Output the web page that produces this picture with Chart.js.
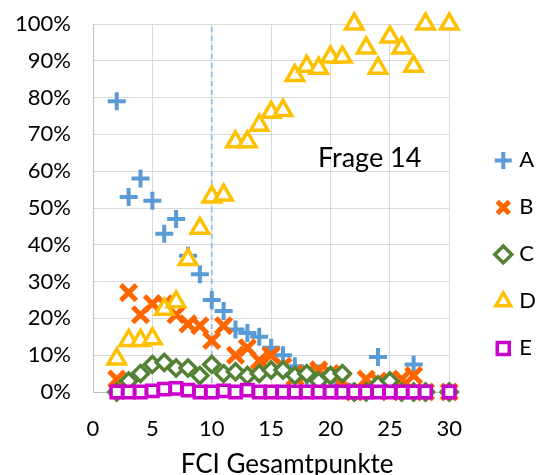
<!DOCTYPE html>
<html>
<head>
<meta charset="utf-8">
<script src="https://cdn.jsdelivr.net/npm/chart.js@4"></script>
<style>
  html, body { margin: 0; padding: 0; background: #fff; }
  #wrap { width: 543px; height: 475px; }
</style>
</head>
<body>
<div id="wrap"><canvas id="c" width="543" height="475"></canvas></div>
<script>
// FCI total score (x) and share of answers per option (%) for question 14
const scores = [2, 3, 4, 5, 6, 7, 8, 9, 10, 11, 12, 13, 14, 15, 16, 17, 18, 19, 20, 21, 22, 23, 24, 25, 26, 27, 28, 30];

const shareA = [79, 53, 58, 52, 43, 47, 37, 32, 25, 22, 17, 16, 15, 12, 10, 7, 4, 5, 3, 2, 0, 1, 9.5, 2, 1, 7.5, 0, 0];
const shareB = [3.5, 27, 21, 24, 24, 21, 18.5, 18, 14, 18, 10, 12, 8.5, 10, 7, 4, 5, 6, 5, 3, 0, 3.5, 3, 0, 3.5, 4.5, 0, 0];
const shareC = [0, 3, 5, 7.5, 8, 6.5, 6.5, 4.5, 7.5, 5, 5.5, 4.5, 5, 6, 6, 4.5, 5, 3, 4.5, 5, 0, 0, 2, 3, 0, 0, 0, 0];
const shareD = [9, 14, 14, 14.5, 22.5, 24.5, 36, 44.5, 53, 53.5, 68, 68, 72.5, 76, 76.5, 86, 88.5, 88, 91, 91, 100, 93.5, 88, 96.5, 93.5, 88.5, 100, 100];
const shareE = [0, 0, 0, 0.3, 0.8, 1, 0.5, 0, 0, 0.3, 0, 0.5, 0, 0, 0, 0, 0, 0, 0, 0, 0, 0, 0, 0, 0, 0, 0, 0];

const seriesNames = ['A', 'B', 'C', 'D', 'E'];
const xTicksStep = 5;
const yTicksStep = 10;

// reference line at 10 points
const markerScore = 10;
const panelTitle = 'Frage 14';
const panelTitlePos = { x: 23.3, y: 63.5 };
const axisTitle = 'FCI Gesamtpunkte';

const FONT = 'Lato, "Liberation Sans", sans-serif';

function pts(values) {
  return values.map((v, i) => ({ x: scores[i], y: v }));
}

const styles = [
  { color: '#5B9BD5', style: 'cross',    radius: 9,   width: 4,   fill: 'rgba(0,0,0,0)' },
  { color: '#FF6600', style: 'crossRot', radius: 11,  width: 5,   fill: 'rgba(0,0,0,0)' },
  { color: '#548235', style: 'rectRot',  radius: 8,   width: 3.5, fill: '#ffffff' },
  { color: '#FFC000', style: 'triangle', radius: 10,  width: 3.5, fill: '#ffffff' },
  { color: '#CC00CC', style: 'rect',     radius: 8,   width: 3.5, fill: '#ffffff' }
];
const seriesValues = [shareA, shareB, shareC, shareD, shareE];

const datasets = seriesValues.map((vals, i) => ({
  type: 'scatter',
  label: seriesNames[i],
  data: pts(vals),
  pointStyle: styles[i].style,
  pointRadius: styles[i].radius,
  pointBorderWidth: styles[i].width,
  borderWidth: styles[i].width,
  pointBorderColor: styles[i].color,
  borderColor: styles[i].color,
  pointBackgroundColor: styles[i].fill,
  backgroundColor: styles[i].fill,
  clip: false,
  order: 4 - i
}));

datasets.push({
  type: 'line',
  label: 'marker',
  data: [{ x: markerScore, y: 0 }, { x: markerScore, y: 100 }],
  borderColor: '#9DC3E6',
  borderWidth: 2,
  borderDash: [5, 4],
  pointRadius: 0,
  showLine: true,
  order: 10
});

// panel label inside the plot and the x-axis caption
const textPlugin = {
  id: 'texts',
  afterDatasetsDraw(chart) {
    const { ctx, scales, chartArea } = chart;
    ctx.save();
    ctx.fillStyle = '#000';
    ctx.textAlign = 'center';
    ctx.font = '27px ' + FONT;
    ctx.textBaseline = 'middle';
    ctx.fillText(panelTitle, scales.x.getPixelForValue(panelTitlePos.x), scales.y.getPixelForValue(panelTitlePos.y));
    ctx.font = '26px ' + FONT;
    ctx.textBaseline = 'alphabetic';
    ctx.fillText(axisTitle, (chartArea.left + chartArea.right) / 2 + 16, 473);
    ctx.restore();
  }
};

new Chart(document.getElementById('c'), {
  type: 'scatter',
  data: { datasets },
  plugins: [textPlugin],
  options: {
    responsive: false,
    animation: false,
    devicePixelRatio: 1,
    layout: { padding: { top: 0, right: -3, bottom: 0, left: 0 } },
    plugins: {
      tooltip: { enabled: false },
      legend: {
        position: 'right',
        align: 'start',
        title: { display: true, text: ' ', font: { size: 12 }, padding: { top: 110, bottom: 0 } },
        labels: {
          usePointStyle: true,
          boxWidth: 10,
          boxHeight: 12,
          padding: 25,
          color: '#000',
          font: { family: FONT, size: 22 },
          filter: (item) => item.text !== 'marker',
          sort: (a, b) => a.datasetIndex - b.datasetIndex
        }
      }
    },
    scales: {
      x: {
        type: 'linear',
        min: 0,
        max: 30,
        ticks: { stepSize: xTicksStep, color: '#000', font: { family: FONT, size: 22 }, padding: 24 },
        grid: { color: '#D9D9D9', lineWidth: 1, drawTicks: false },
        border: { color: '#BFBFBF' },
        afterFit(scale) { scale.height = 83; }
      },
      y: {
        min: 0,
        max: 100,
        ticks: { stepSize: yTicksStep, color: '#000', font: { family: FONT, size: 22 }, padding: 22, callback: (v) => v + '%' },
        grid: { color: '#D9D9D9', lineWidth: 1, drawTicks: false },
        border: { color: '#BFBFBF' },
        afterFit(scale) { scale.width = 93; scale.paddingTop = 24; }
      },
      // empty spacer between plot area and legend
      gap: {
        type: 'linear',
        position: 'right',
        display: true,
        ticks: { display: false },
        grid: { display: false },
        border: { display: false },
        afterFit(scale) { scale.width = 24; }
      }
    }
  }
});
</script>
</body>
</html>
